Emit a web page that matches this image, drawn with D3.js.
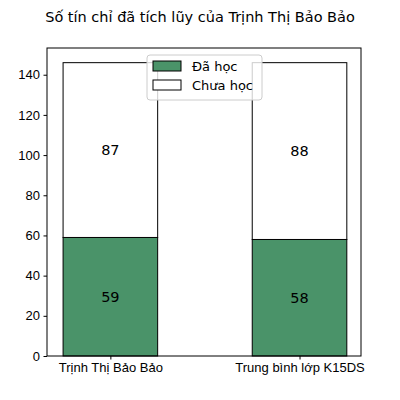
<!DOCTYPE html>
<html>
<head>
  <script src="https://d3js.org/d3.v7.min.js"></script>
  <style>body{margin:0;background:#fff;font-family:"DejaVu Sans",sans-serif;}</style>
</head>
<body>
<div id="chart"></div>
<script>
  // Chart data
  const categories = ['Trịnh Thị Bảo Bảo', 'Trung bình lớp K15DS'];
  const studied = [59, 58];
  const notStudied = [87, 88];
  const yTicks = [0, 20, 40, 60, 80, 100, 120, 140];
  const seriesNames = ['Đã học', 'Chưa học'];

  const margin = { top: 48, right: 39, bottom: 44, left: 47 };
  const width = 400 - margin.left - margin.right;
  const height = 400 - margin.top - margin.bottom;

  const svg = d3.select('#chart').append('svg')
    .attr('width', 400).attr('height', 400)
    .style('font-family', '"DejaVu Sans", sans-serif');

  svg.append('text').attr('x', 200).attr('y', 22).attr('text-anchor', 'middle')
    .attr('font-size', 14.5).text('Số tín chỉ đã tích lũy của Trịnh Thị Bảo Bảo');

  const g = svg.append('g').attr('transform', `translate(${margin.left},${margin.top})`);

  const totalMax = d3.max(studied.map((d, i) => d + notStudied[i]));
  const x = d3.scaleLinear().domain([-0.335, 1.325]).range([0, width]);
  const y = d3.scaleLinear().domain([0, totalMax * 1.05]).range([height, 0]);
  const bw = x(0.5) - x(0);

  categories.forEach((c, i) => {
    g.append('rect').attr('x', x(i) - bw / 2).attr('y', y(studied[i]))
      .attr('width', bw).attr('height', y(0) - y(studied[i]))
      .attr('fill', '#4a9369').attr('stroke', '#000').attr('stroke-width', 1);
    g.append('rect').attr('x', x(i) - bw / 2).attr('y', y(studied[i] + notStudied[i]))
      .attr('width', bw).attr('height', y(studied[i]) - y(studied[i] + notStudied[i]))
      .attr('fill', '#fff').attr('stroke', '#000').attr('stroke-width', 1);
    g.append('text').attr('x', x(i)).attr('y', y(studied[i] / 2)).attr('dy', '0.35em')
      .attr('text-anchor', 'middle').attr('font-size', 14.5).text(studied[i]);
    g.append('text').attr('x', x(i)).attr('y', y(studied[i] + notStudied[i] / 2)).attr('dy', '0.35em')
      .attr('text-anchor', 'middle').attr('font-size', 14.5).text(notStudied[i]);
  });

  const yAxis = g.append('g').call(d3.axisLeft(y).tickValues(yTicks).tickSize(3.5).tickPadding(3.5));
  yAxis.selectAll('text').attr('font-size', 13).attr('fill', '#000');
  const xAxis = g.append('g').attr('transform', `translate(0,${height})`)
    .call(d3.axisBottom(x).tickValues([0, 1]).tickFormat(i => categories[i]).tickSize(3.5).tickPadding(3.5));
  xAxis.selectAll('text').attr('font-size', 13).attr('fill', '#000');
  g.selectAll('.domain').remove();
  g.append('rect').attr('width', width).attr('height', height)
    .attr('fill', 'none').attr('stroke', '#000').attr('stroke-width', 1);

  // Legend
  const lg = g.append('g').attr('transform', `translate(${100},${7})`);
  lg.append('rect').attr('width', 115).attr('height', 45).attr('rx', 3)
    .attr('fill', '#fff').attr('fill-opacity', 0.8).attr('stroke', '#ccc');
  const legendFills = ['#4a9369', '#fff'];
  seriesNames.forEach((s, i) => {
    lg.append('rect').attr('x', 6).attr('y', 6 + i * 19).attr('width', 28).attr('height', 10)
      .attr('fill', legendFills[i]).attr('stroke', '#000');
    lg.append('text').attr('x', 45).attr('y', 11 + i * 19).attr('dy', '0.35em')
      .attr('font-size', 13).text(s);
  });
</script>
</body>
</html>
